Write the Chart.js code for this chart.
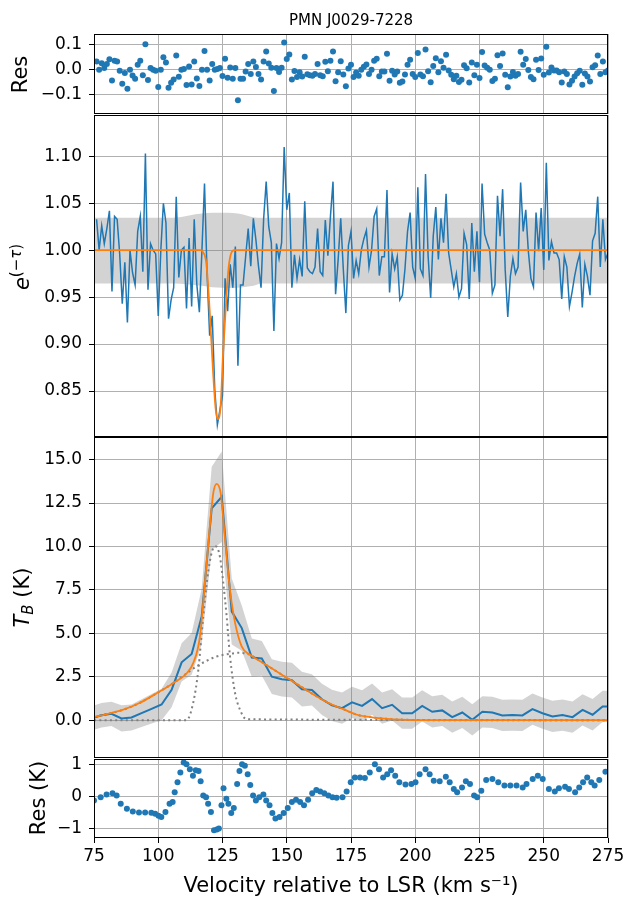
<!DOCTYPE html>
<html>
<head>
<meta charset="utf-8">
<script src="https://cdn.jsdelivr.net/npm/chart.js@4.4.0/dist/chart.umd.min.js"></script>
<style>
  body { margin: 0; background: #fff; }
  #wrap { position: relative; width: 629px; height: 898px; background: #fff; }
  canvas { position: absolute; left: 0; }
</style>
</head>
<body>
<div id="wrap">
  <canvas id="resAbs" width="629" height="118" style="top:0px"></canvas>
  <canvas id="tau" width="629" height="328" style="top:112px"></canvas>
  <canvas id="tb" width="629" height="327" style="top:434px"></canvas>
  <canvas id="resEm" width="629" height="143" style="top:755px"></canvas>
</div>
<script>
// absorption channels (km/s)
const absVel = [
  76, 77, 78, 79, 80, 81, 82, 83, 84, 85, 86, 87, 88, 89, 90, 91, 92, 93, 94, 95,
  96, 97, 98, 99, 100, 101, 102, 103, 104, 105, 106, 107, 108, 109, 110, 111, 112, 113, 114, 115,
  116, 117, 118, 119, 120, 121, 122, 123, 124, 125, 126, 127, 128, 129, 130, 131, 132, 133, 134, 135,
  136, 137, 138, 139, 140, 141, 142, 143, 144, 145, 146, 147, 148, 149, 150, 151, 152, 153, 154, 155,
  156, 157, 158, 159, 160, 161, 162, 163, 164, 165, 166, 167, 168, 169, 170, 171, 172, 173, 174, 175,
  176, 177, 178, 179, 180, 181, 182, 183, 184, 185, 186, 187, 188, 189, 190, 191, 192, 193, 194, 195,
  196, 197, 198, 199, 200, 201, 202, 203, 204, 205, 206, 207, 208, 209, 210, 211, 212, 213, 214, 215,
  216, 217, 218, 219, 220, 221, 222, 223, 224, 225, 226, 227, 228, 229, 230, 231, 232, 233, 234, 235,
  236, 237, 238, 239, 240, 241, 242, 243, 244, 245, 246, 247, 248, 249, 250, 251, 252, 253, 254, 255,
  256, 257, 258, 259, 260, 261, 262, 263, 264, 265, 266, 267, 268, 269, 270, 271, 272, 273, 274, 275
]
// e^(-tau) spectrum
const absData = [
  1.033, 1.0, 1.026, 1.007, 1.023, 1.042, 0.956, 1.036, 1.033, 0.996, 0.943, 0.987, 0.923, 1.0, 0.976, 0.963, 1.02, 1.036, 0.977, 1.103,
  0.958, 1.007, 1.0, 0.996, 0.93, 1.0, 1.05, 1.029, 0.927, 0.947, 0.96, 1.057, 0.971, 1.0, 1.003, 0.938, 1.013, 0.94, 1.033, 0.964,
  0.934, 1.0, 1.071, 0.975, 0.909, 0.93, 0.851, 0.814, 0.83, 0.845, 0.97, 0.935, 0.985, 0.96, 1.004, 0.877, 0.963, 0.963, 0.993, 1.023,
  0.983, 1.034, 1.011, 0.983, 0.96, 1.033, 1.073, 1.025, 1.008, 0.914, 1.007, 0.991, 1.008, 1.11, 1.043, 1.061, 0.96, 0.995, 0.97, 0.99,
  0.972, 1.052, 0.981, 0.977, 0.975, 0.982, 1.023, 0.977, 0.973, 1.032, 0.994, 1.036, 1.073, 0.953, 0.99, 1.034, 0.98, 0.933, 1.005, 1.02,
  0.97, 0.989, 0.975, 1.0, 1.012, 1.021, 0.982, 1.0, 1.036, 1.044, 0.973, 0.993, 0.993, 1.064, 0.955, 0.996, 0.98, 0.993, 0.947, 0.952,
  0.98, 1.02, 1.04, 0.982, 0.97, 1.067, 0.98, 0.973, 1.081, 0.994, 0.949, 1.015, 1.046, 0.99, 1.034, 1.008, 1.06, 0.997, 0.979, 0.961,
  0.975, 0.95, 0.959, 1.018, 1.006, 0.948, 1.029, 0.977, 1.02, 0.966, 1.071, 1.017, 1.008, 1.0, 0.954, 0.963, 1.058, 1.015, 1.065, 0.979,
  0.929, 0.972, 0.991, 0.975, 0.982, 1.072, 1.02, 1.043, 0.999, 0.97, 0.961, 1.04, 0.999, 1.045, 0.979, 1.093, 0.989, 1.009, 0.997, 0.997,
  0.99, 0.948, 0.993, 0.982, 0.94, 0.955, 0.972, 0.986, 0.996, 0.939, 0.985, 0.972, 0.952, 1.01, 1.018, 1.057, 0.982, 1.033, 0.99, 0.997
]
// residuals of the absorption fit (top panel)
const absRes = [
  0.033, 0, 0.026, 0.007, 0.023, 0.042, -0.044, 0.036, 0.033, -0.004, -0.057, -0.013, -0.077, 0, -0.024, -0.037, 0.02, 0.036, -0.023, 0.103,
  -0.042, 0.007, 0, -0.004, -0.07, 0, 0.05, 0.029, -0.073, -0.053, -0.04, 0.057, -0.029, 0, 0.003, -0.062, 0.013, -0.06, 0.033, -0.036,
  -0.066, 0, 0.075, 0, -0.044, 0.023, 0, 0.003, 0.007, -0.026, 0.044, -0.033, 0.009, -0.037, 0.007, -0.123, -0.037, -0.037, -0.007, 0.023,
  -0.017, 0.033, 0.011, -0.017, -0.04, 0.033, 0.073, 0.025, 0.008, -0.086, 0.007, -0.009, 0.008, 0.11, 0.043, 0.061, -0.04, -0.005, -0.03, -0.01,
  -0.028, 0.052, -0.019, -0.023, -0.025, -0.018, 0.023, -0.023, -0.027, 0.032, -0.006, 0.036, 0.073, -0.047, -0.01, 0.034, -0.02, -0.067, 0.005, 0.02,
  -0.03, -0.011, -0.025, 0, 0.012, 0.021, -0.018, 0, 0.036, 0.044, -0.027, -0.007, -0.007, 0.064, -0.045, -0.004, -0.02, -0.007, -0.053, -0.048,
  -0.02, 0.02, 0.04, -0.018, -0.03, 0.067, -0.02, -0.027, 0.081, -0.006, -0.051, 0.015, 0.046, -0.01, 0.034, 0.008, 0.06, -0.003, -0.021, -0.039,
  -0.025, -0.05, -0.041, 0.018, 0.006, -0.052, 0.029, -0.023, 0.02, -0.034, 0.071, 0.017, 0.008, 0, -0.046, -0.037, 0.058, 0.015, 0.065, -0.021,
  -0.071, -0.028, -0.009, -0.025, -0.018, 0.072, 0.02, 0.043, -0.001, -0.03, -0.039, 0.04, -0.001, 0.045, -0.021, 0.093, -0.011, 0.009, -0.003, -0.003,
  -0.01, -0.052, -0.007, -0.018, -0.06, -0.045, -0.028, -0.014, -0.004, -0.061, -0.015, -0.028, -0.048, 0.01, 0.018, 0.057, -0.018, 0.033, -0.01, -0.003
]
// fitted absorption model (orange)
const absModelVel = [75, 116.5, 117.4, 118.7, 120.0, 121.3, 122.3, 123.1, 124.3, 125.2, 126.5, 127.4, 128.4, 129.7, 275]
const absModel = [1.0, 1.0, 0.998, 0.986, 0.936, 0.872, 0.832, 0.82, 0.835, 0.889, 0.95, 0.982, 0.997, 1.0, 1.0]
// noise envelope
const absBandVel = [75, 106, 112, 117, 121, 125, 129, 133, 137, 140, 275]
const absBandHi = [1.0345, 1.0345, 1.037, 1.039, 1.0398, 1.04, 1.0395, 1.038, 1.035, 1.0345, 1.0345]
const absBandLo = [0.9645, 0.9645, 0.9635, 0.962, 0.9605, 0.96, 0.9598, 0.9605, 0.962, 0.9645, 0.9645]

// emission channels
const emVel = [74.0, 77.9, 81.8, 85.7, 89.6, 93.5, 97.4, 101.3, 105.2, 109.1, 113.0, 116.9, 120.8, 124.7, 128.6, 132.5, 136.4, 140.3,
  144.2, 148.1, 152.0, 155.9, 159.8, 163.7, 167.6, 171.5, 175.4, 179.3, 183.2, 187.1, 191.0, 194.9, 198.8, 202.7, 206.6, 210.5,
  214.4, 218.3, 222.2, 226.1, 230.0, 233.9, 237.8, 241.7, 245.6, 249.5, 253.4, 257.3, 261.2, 265.1, 269.0, 272.9, 276.8]
const emT = [0.1, 0.28, 0.36, 0.1, 0.15, 0.4, 0.65, 0.9, 1.74, 3.33, 3.81, 5.96, 12.19, 12.86, 6.25, 5.3, 3.6, 3.55,
  2.5, 2.36, 2.3, 1.78, 1.74, 1.2, 0.85, 0.69, 1.02, 0.82, 1.21, 0.69, 0.88, 0.4, 0.4, 0.82, 0.48, 0.56,
  0.17, 0.44, 0.02, 0.48, 0.44, 0.27, 0.29, 0.27, 0.63, 0.4, 0.21, 0.29, 0.17, 0.59, 0.31, 0.79, 0.79]
const emErr = [0.7, 0.7, 0.7, 0.75, 0.75, 0.8, 0.85, 0.9, 1.0, 1.1, 1.2, 1.6, 2.4, 2.6, 1.9, 1.3, 1.1, 1.0,
  1.0, 1.0, 1.0, 1.0, 0.9, 0.9, 0.9, 0.9, 0.9, 0.9, 0.9, 0.9, 0.9, 0.9, 0.9, 0.9, 0.9, 0.9,
  0.9, 0.9, 0.9, 0.9, 0.9, 0.9, 0.9, 0.9, 0.9, 0.9, 0.9, 0.9, 0.9, 0.9, 0.9, 0.9, 0.9]
// emission model (orange)
const emModelVel = [75, 80, 86.4, 92.9, 99.4, 105.8, 111.1, 113.6, 116.2, 118.8, 121.4, 122.7, 124.3, 126, 127.9, 129.9, 132.5,
  135.7, 140.9, 146.1, 151.3, 156.5, 161.7, 166.9, 172, 177.3, 183.8, 190.3, 196.7, 205, 275]
const emModel = [0.17, 0.35, 0.6, 1.0, 1.55, 2.13, 2.7, 3.28, 4.8, 9.0, 13.05, 13.6, 13.05, 10.4, 7.5, 5.6, 4.23,
  3.76, 3.28, 2.8, 2.32, 1.84, 1.36, 0.94, 0.63, 0.31, 0.15, 0.06, 0.02, 0, 0]
// gaussian components (dotted)
const narrowVel = [75, 111, 113.6, 115.6, 117.5, 119.5, 121.4, 122.5, 124, 125.3, 126.6, 127.9, 129.9, 131.8, 134.4, 275]
const narrowT = [0, 0, 1.0, 2.9, 5.96, 8.6, 9.9, 10.0, 9.4, 7.9, 6.0, 3.7, 1.55, 0.6, 0.05, 0]
const broadVel = [75, 86.4, 92.9, 99.4, 105.8, 111.1, 115, 118.2, 122.7, 127.9, 131.5, 135.7, 140.9, 146.1, 151.3, 156.5,
  161.7, 166.9, 172, 177.3, 183.8, 190.3, 196.7, 205, 275]
const broadT = [0.17, 0.6, 1.0, 1.55, 2.13, 2.7, 3.1, 3.37, 3.66, 3.82, 3.88, 3.76, 3.28, 2.8, 2.32, 1.84,
  1.36, 0.94, 0.63, 0.31, 0.15, 0.06, 0.02, 0, 0]

// emission residuals (bottom panel)
const resKVel = [75.0, 77.6, 79.9, 82.2, 83.8, 85.4, 87.8, 90.1, 92.5, 94.9, 97.3, 98.8, 100.1, 101.2, 102.8, 104.4, 105.6,
  106.4, 107.5, 108.6, 109.9, 111.0, 112.3, 113.5, 114.6, 115.7, 116.5, 117.5, 118.6, 119.4, 120.5, 121.7, 122.8, 123.6,
  124.6, 125.4, 126.5, 127.3, 128.4, 129.4, 130.7, 131.6, 132.6, 133.7, 134.8, 135.8, 136.9, 138.0, 139.3, 140.9, 142.0,
  143.3, 144.4, 145.6, 147.2, 148.8, 150.4, 152.0, 153.6, 155.2, 156.7, 158.3, 159.9, 161.5, 163.0, 164.6, 166.2, 167.8,
  169.4, 171.7, 173.3, 174.9, 176.5, 178.5, 180.4, 182.3, 184.3, 185.9, 187.5, 189.1, 190.6, 192.2, 193.8, 196.2, 198.5,
  200.1, 201.7, 204.0, 205.6, 207.2, 209.5, 211.9, 213.4, 215.0, 216.3, 218.2, 219.7, 221.3, 222.9, 224.1, 225.7, 227.6,
  230.0, 232.3, 234.7, 237.0, 239.4, 241.8, 243.3, 245.7, 247.7, 249.6, 252.0, 254.3, 255.9, 258.3, 259.8, 262.2, 263.8,
  265.3, 266.9, 268.5, 269.8, 271.6, 274.0]
const resK = [-0.12, -0.02, 0.06, 0.1, 0.03, -0.22, -0.38, -0.46, -0.49, -0.49, -0.5, -0.53, -0.59, -0.63, -0.48, -0.22, -0.17,
  0.13, 0.44, 0.74, 1.05, 1.0, 0.84, 0.64, 0.81, 0.79, 0.47, 0.03, -0.02, -0.22, -0.48, -1.04, -1.02, -0.99,
  -0.27, 0.26, -0.07, -0.22, -0.51, -0.35, 0.39, 0.79, 1.0, 0.95, 0.69, 0.36, 0.03, -0.12, -0.02, 0.06, -0.12,
  -0.27, -0.51, -0.68, -0.63, -0.51, -0.35, -0.17, -0.1, -0.17, -0.27, -0.1, 0.1, 0.2, 0.16, 0.1, 0.03, -0.02,
  -0.04, -0.02, 0.16, 0.44, 0.59, 0.59, 0.57, 0.74, 1.0, 0.84, 0.59, 0.69, 0.81, 0.64, 0.44, 0.37, 0.39,
  0.44, 0.69, 0.84, 0.69, 0.49, 0.47, 0.61, 0.44, 0.23, 0.13, 0.28, 0.47, 0.39, 0.03, -0.02, 0.18, 0.51,
  0.54, 0.44, 0.34, 0.34, 0.34, 0.28, 0.39, 0.54, 0.64, 0.54, 0.23, 0.16, 0.26, 0.3, 0.23, 0.13, 0.28,
  0.44, 0.59, 0.44, 0.34, 0.51, 0.77]

// ticks
const velTicks = [75, 100, 125, 150, 175, 200, 225, 250, 275]
const resAbsTicks = [-0.1, 0, 0.1]
const tauTicks = [0.85, 0.9, 0.95, 1.0, 1.05, 1.1]
const tbTicks = [0, 2.5, 5, 7.5, 10, 12.5, 15]
const resEmTicks = [-1, 0, 1]

const FONT = "'DejaVu Sans', sans-serif"
const BLUE = '#1f77b4'
const ORANGE = '#ff7f0e'
const GRID = '#b0b0b0'
const BAND = 'rgba(128, 128, 128, 0.35)'

const pts = (xs, ys) => xs.map((x, i) => ({ x: x, y: ys[i] }))
const minus = s => s.replace('-', '\u2212')

// black box round each panel, like matplotlib spines
const frame = {
  id: 'frame',
  afterDatasetsDraw(chart) {
    const { ctx, chartArea: a } = chart
    ctx.save()
    ctx.strokeStyle = '#000'
    ctx.lineWidth = 1
    ctx.strokeRect(a.left + 0.5, a.top + 0.5, a.right - a.left - 1, a.bottom - a.top - 1)
    ctx.restore()
  }
}

// free text (labels with super/subscripts, title)
function texts(items) {
  return {
    id: 'texts',
    afterDraw(chart) {
      const ctx = chart.ctx
      items.forEach(item => {
        ctx.save()
        ctx.translate(item.x, item.y)
        if (item.rot) ctx.rotate(-Math.PI / 2)
        ctx.fillStyle = '#000'
        ctx.textBaseline = 'alphabetic'
        ctx.textAlign = 'left'
        const fontOf = p => (p.italic ? 'italic ' : '') + p.size + 'px ' + FONT
        let w = 0
        item.parts.forEach(p => { ctx.font = fontOf(p); w += ctx.measureText(p.t).width })
        let u = -w / 2
        const base = item.parts[0].size * 0.36
        item.parts.forEach(p => {
          ctx.font = fontOf(p)
          ctx.fillText(p.t, u, base - (p.rise || 0))
          u += ctx.measureText(p.t).width
        })
        ctx.restore()
      })
    }
  }
}

function xScale(showLabels) {
  return {
    type: 'linear', min: 75, max: 275,
    afterBuildTicks: s => { s.ticks = velTicks.map(v => ({ value: v })) },
    afterFit: s => { s.height = showLabels ? 60 : 0; s.paddingLeft = 0; s.paddingRight = 0 },
    grid: { color: GRID, lineWidth: 1, drawTicks: showLabels, tickLength: 5, tickColor: '#000' },
    border: { display: false },
    ticks: { display: showLabels, color: '#000', font: { family: FONT, size: 17 }, padding: 3, maxRotation: 0,
      callback: v => String(v) },
    title: {
      display: showLabels, text: 'Velocity relative to LSR (km s\u207B\u00B9)', color: '#000',
      font: { family: FONT, size: 21, lineHeight: 1.05 }, padding: { top: 0, bottom: 0 }
    }
  }
}

function yScale(min, max, ticks, digits) {
  return {
    type: 'linear', min: min, max: max,
    afterBuildTicks: s => { s.ticks = ticks.map(v => ({ value: v })) },
    afterFit: s => { s.width = 94; s.paddingTop = 0; s.paddingBottom = 0 },
    grid: { color: GRID, lineWidth: 1, drawTicks: true, tickLength: 5, tickColor: '#000' },
    border: { display: false },
    ticks: { color: '#000', font: { family: FONT, size: 17 }, padding: 7,
      callback: v => minus(Number(v).toFixed(digits)) }
  }
}

function baseOptions(pad, ymin, ymax, yticks, digits, showX) {
  return {
    responsive: false,
    animation: false,
    devicePixelRatio: 1,
    layout: { padding: pad },
    plugins: { legend: { display: false }, tooltip: { enabled: false }, title: { display: false } },
    scales: { x: xScale(showX), y: yScale(ymin, ymax, yticks, digits) }
  }
}

// top: absorption residuals
new Chart(document.getElementById('resAbs'), {
  type: 'scatter',
  data: {
    datasets: [{
      data: pts(absVel, absRes), pointRadius: 3, pointBorderWidth: 0,
      backgroundColor: BLUE, borderColor: BLUE
    }]
  },
  options: baseOptions({ top: 34, right: 21, bottom: 3, left: 0 }, -0.179, 0.144, resAbsTicks, 1, false),
  plugins: [frame, texts([
    { x: 351, y: 20, parts: [{ t: 'PMN J0029-7228', size: 15 }] },
    { x: 19, y: 74.5, rot: true, parts: [{ t: 'Res', size: 21 }] }
  ])]
})

// e^(-tau)
new Chart(document.getElementById('tau'), {
  type: 'line',
  data: {
    datasets: [
      { data: pts(absBandVel, absBandLo), borderWidth: 0, pointRadius: 0, fill: false, cubicInterpolationMode: 'monotone', order: 5 },
      { data: pts(absBandVel, absBandHi), borderWidth: 0, pointRadius: 0, fill: '-1', backgroundColor: BAND, cubicInterpolationMode: 'monotone', order: 4 },
      { data: pts(absVel, absData), borderColor: BLUE, borderWidth: 1.5, pointRadius: 0, fill: false, order: 2 },
      { data: pts(absModelVel, absModel), borderColor: ORANGE, borderWidth: 1.8, pointRadius: 0, fill: false, cubicInterpolationMode: 'monotone', order: 1 }
    ]
  },
  options: baseOptions({ top: 3, right: 21, bottom: 3, left: 0 }, 0.801, 1.144, tauTicks, 2, false),
  plugins: [frame, texts([
    { x: 21, y: 155, rot: true, parts: [{ t: 'e', size: 21, italic: true }, { t: '(\u2212', size: 15, rise: 8 }, { t: '\u03C4', size: 15, rise: 8, italic: true }, { t: ')', size: 15, rise: 8 }] }
  ])]
})

// brightness temperature
new Chart(document.getElementById('tb'), {
  type: 'line',
  data: {
    datasets: [
      { data: pts(emVel, emT.map((t, i) => t - emErr[i])), borderWidth: 0, pointRadius: 0, fill: false, order: 6 },
      { data: pts(emVel, emT.map((t, i) => t + emErr[i])), borderWidth: 0, pointRadius: 0, fill: '-1', backgroundColor: BAND, order: 5 },
      { data: pts(narrowVel, narrowT), borderColor: '#808080', borderWidth: 2, borderDash: [2, 3.3], pointRadius: 0, fill: false, cubicInterpolationMode: 'monotone', order: 4 },
      { data: pts(broadVel, broadT), borderColor: '#808080', borderWidth: 2, borderDash: [2, 3.3], pointRadius: 0, fill: false, cubicInterpolationMode: 'monotone', order: 3 },
      { data: pts(emVel, emT), borderColor: BLUE, borderWidth: 2, pointRadius: 0, fill: false, order: 2 },
      { data: pts(emModelVel, emModel), borderColor: ORANGE, borderWidth: 1.8, pointRadius: 0, fill: false, cubicInterpolationMode: 'monotone', order: 1 }
    ]
  },
  options: baseOptions({ top: 3, right: 21, bottom: 3, left: 0 }, -2.18, 16.3, tbTicks, 1, false),
  plugins: [frame, texts([
    { x: 21, y: 163.5, rot: true, parts: [{ t: 'T', size: 21, italic: true }, { t: 'B', size: 15, rise: -4, italic: true }, { t: ' (K)', size: 21 }] }
  ])]
})

// emission residuals
new Chart(document.getElementById('resEm'), {
  type: 'scatter',
  data: {
    datasets: [{
      data: pts(resKVel, resK), pointRadius: 3, pointBorderWidth: 0,
      backgroundColor: BLUE, borderColor: BLUE
    }]
  },
  options: baseOptions({ top: 3, right: 21, bottom: 0, left: 0 }, -1.28, 1.16, resEmTicks, 0, true),
  plugins: [frame, texts([
    { x: 37, y: 43, rot: true, parts: [{ t: 'Res (K)', size: 21 }] }
  ])]
})
</script>
</body>
</html>
